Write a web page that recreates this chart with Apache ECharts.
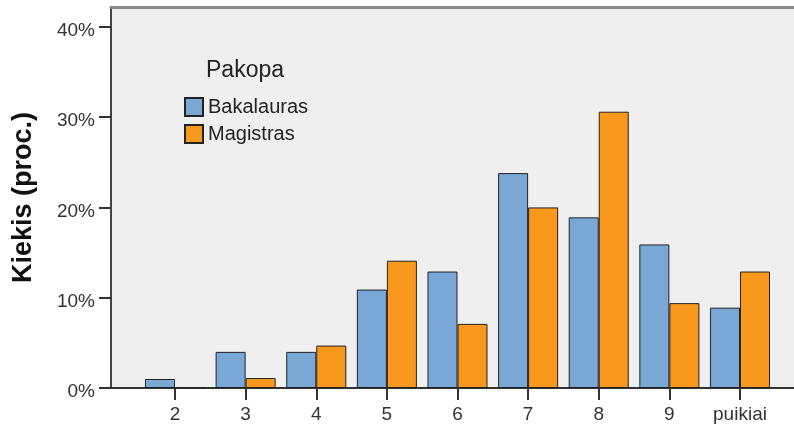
<!DOCTYPE html>
<html>
<head>
<meta charset="utf-8">
<script src="https://cdn.jsdelivr.net/npm/echarts@6/dist/echarts.min.js"></script>
<style>
  html, body { margin: 0; padding: 0; background: #fff; }
  #main { width: 794px; height: 427px; }
</style>
</head>
<body>
<div id="main"></div>
<script>
// pažymių kategorijos ir procentai
var categories = ["2", "3", "4", "5", "6", "7", "8", "9", "puikiai"];
var bakalauras = [1.0, 4.0, 4.0, 10.9, 12.9, 23.8, 18.9, 15.9, 8.9];
var magistras = [0, 1.1, 4.7, 14.1, 7.1, 20.0, 30.6, 9.4, 12.9];
var yTicks = [0, 10, 20, 30, 40];

var font = "Arial, 'Liberation Sans', sans-serif";
var chart = echarts.init(document.getElementById("main"));

var option = {
  animation: false,
  textStyle: { fontFamily: font },
  title: {
    text: "Pakopa",
    left: 201,
    top: 54,
    textStyle: { fontSize: 23, fontWeight: "normal", color: "#222", fontFamily: font }
  },
  legend: {
    orient: "vertical",
    left: 179,
    top: 92,
    icon: "rect",
    itemWidth: 18,
    itemHeight: 18,
    itemGap: 7,
    textStyle: { fontSize: 20, color: "#222" },
    data: ["Bakalauras", "Magistras"]
  },
  grid: [
    // stulpeliai
    { left: 139.7, right: 18.7, top: 7, bottom: 39, outerBoundsMode: "none" },
    // fonas ir ašys
    { left: 111, right: 0, top: 7, bottom: 39, show: true, backgroundColor: "#efefef", borderWidth: 0, z: 0, outerBoundsMode: "none" }
  ],
  xAxis: [
    {
      type: "category",
      gridIndex: 0,
      data: categories,
      axisLine: { show: false },
      axisTick: { show: true, alignWithLabel: true, length: 12, lineStyle: { color: "#333", width: 2 } },
      axisLabel: { fontSize: 19, color: "#333", margin: 17 }
    },
    {
      type: "value",
      gridIndex: 1,
      min: 0,
      max: 1,
      axisLine: { show: true, onZero: false, lineStyle: { color: "#333", width: 2 } },
      axisTick: { show: false },
      axisLabel: { show: false },
      splitLine: { show: false }
    },
    {
      type: "value",
      gridIndex: 1,
      position: "top",
      min: 0,
      max: 1,
      axisLine: { show: true, onZero: false, lineStyle: { color: "#8a8a8a", width: 3 } },
      axisTick: { show: false },
      axisLabel: { show: false },
      splitLine: { show: false }
    }
  ],
  yAxis: [
    {
      type: "value",
      gridIndex: 0,
      min: 0,
      max: 42.2,
      show: false,
      splitLine: { show: false }
    },
    {
      type: "value",
      gridIndex: 1,
      min: 0,
      max: 42.2,
      interval: 10,
      name: "Kiekis (proc.)",
      nameLocation: "middle",
      nameRotate: 90,
      nameGap: 74,
      nameTextStyle: { fontSize: 27, fontWeight: "bold", color: "#111", fontFamily: font },
      axisLine: { show: true, onZero: false, lineStyle: { color: "#444", width: 2 } },
      axisTick: { show: true, length: 12, customValues: yTicks, lineStyle: { color: "#333", width: 2 } },
      axisLabel: {
        fontSize: 19,
        color: "#333",
        margin: 16,
        verticalAlign: "top",
        lineHeight: 8,
        customValues: yTicks,
        formatter: function (v) { return v + "%"; }
      },
      splitLine: { show: false }
    }
  ],
  series: [
    {
      name: "Bakalauras",
      type: "bar",
      xAxisIndex: 0,
      yAxisIndex: 0,
      data: bakalauras,
      barGap: "0%",
      barCategoryGap: "15%",
      itemStyle: { color: "#79a8d6", borderColor: "#222", borderWidth: 1 },
      z: 3
    },
    {
      name: "Magistras",
      type: "bar",
      xAxisIndex: 0,
      yAxisIndex: 0,
      data: magistras,
      barGap: "0%",
      barCategoryGap: "15%",
      itemStyle: { color: "#f8981d", borderColor: "#222", borderWidth: 1 },
      z: 3
    }
  ]
};

chart.setOption(option);
</script>
</body>
</html>
